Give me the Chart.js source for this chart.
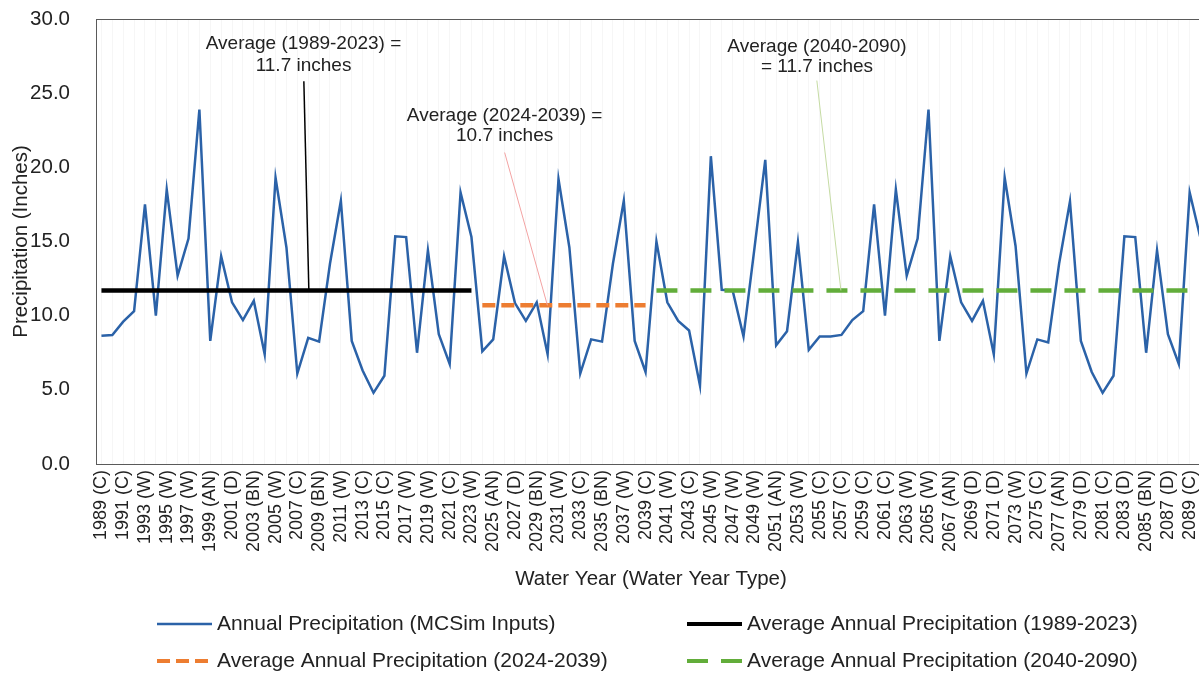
<!DOCTYPE html>
<html>
<head>
<meta charset="utf-8">
<title>Annual Precipitation</title>
<script src="https://cdn.jsdelivr.net/npm/chart.js@4.4.1/dist/chart.umd.min.js"></script>
<style>
  html, body { margin: 0; padding: 0; background: #fff; overflow: hidden; }
  canvas { display: block; }
</style>
</head>
<body>
<canvas id="precipChart" width="1206" height="681"></canvas>
<script>
// water years shown on the axis, every other year gets a label
var firstYear = 1989;
var lastYear = 2090;

var tickLabels = [
  '1989 (C)', '1991 (C)', '1993 (W)', '1995 (W)', '1997 (W)', '1999 (AN)', '2001 (D)', '2003 (BN)',
  '2005 (W)', '2007 (C)', '2009 (BN)', '2011 (W)', '2013 (C)', '2015 (C)', '2017 (W)', '2019 (W)',
  '2021 (C)', '2023 (W)', '2025 (AN)', '2027 (D)', '2029 (BN)', '2031 (W)', '2033 (C)', '2035 (BN)',
  '2037 (W)', '2039 (C)', '2041 (W)', '2043 (C)', '2045 (W)', '2047 (W)', '2049 (W)', '2051 (AN)',
  '2053 (W)', '2055 (C)', '2057 (C)', '2059 (C)', '2061 (C)', '2063 (W)', '2065 (W)', '2067 (AN)',
  '2069 (D)', '2071 (D)', '2073 (W)', '2075 (C)', '2077 (AN)', '2079 (D)', '2081 (C)', '2083 (D)',
  '2085 (BN)', '2087 (D)', '2089 (C)'
];

// annual precipitation, inches (1989 ... 2090)
var precipitation = [
  8.65, 8.7, 9.6, 10.3, 17.5, 10.0, 18.5, 12.7, 15.2, 23.9,     // 1989-1998
  8.3, 14.0, 10.9, 9.7, 11.0, 7.4, 19.3, 14.6, 6.1, 8.5,        // 1999-2008
  8.25, 13.5, 17.75, 8.3, 6.3, 4.8, 5.95, 15.35, 15.3, 7.5,     // 2009-2018
  14.4, 8.75, 6.75, 18.3, 15.3, 7.6, 8.4, 14.0, 10.85, 9.65,    // 2019-2028
  10.9, 7.4, 19.2, 14.6, 6.1, 8.4, 8.25, 13.5, 17.75, 8.3,      // 2029-2038
  6.2, 15.0, 10.9, 9.65, 9.0, 5.3, 20.75, 11.75, 11.7, 8.6,     // 2039-2048
  14.5, 20.5, 8.0, 8.95, 14.95, 7.7, 8.6, 8.6, 8.7, 9.7,        // 2049-2058
  10.3, 17.5, 10.0, 18.5, 12.7, 15.2, 23.9, 8.3, 14.0, 10.9,    // 2059-2068
  9.65, 11.0, 7.4, 19.3, 14.7, 6.1, 8.4, 8.2, 13.5, 17.7,       // 2069-2078
  8.3, 6.2, 4.8, 5.95, 15.35, 15.3, 7.5, 14.4, 8.75, 6.75,      // 2079-2088
  18.3, 15.2                                                    // 2089-2090
];

// period averages
var avgStart = [1989, 2024, 2040];
var avgEnd = [2023, 2039, 2090];
var avgValue = [11.7, 10.7, 11.7];

var yTicks = [0, 5, 10, 15, 20, 25, 30];

var years = [];
for (var y = firstYear; y <= lastYear; y++) years.push(y);

function periodLine(k) {
  return years.map(function (yr) {
    return (yr >= avgStart[k] && yr <= avgEnd[k]) ? avgValue[k] : null;
  });
}

var FONT = "'Liberation Sans', Arial, sans-serif";
var TEXT = '#222222';

// frame round the plot area
var plotFrame = {
  id: 'plotFrame',
  beforeDatasetsDraw: function (chart) {
    var ctx = chart.ctx, a = chart.chartArea;
    ctx.save();
    ctx.strokeStyle = '#5a5a5a';
    ctx.lineWidth = 1;
    ctx.strokeRect(Math.round(a.left) + 0.5, Math.round(a.top) + 0.5,
      Math.round(a.right - a.left), Math.round(a.bottom - a.top));
    ctx.restore();
  }
};

// callout labels, positions given in category index / inches
var callouts = [
  { text: ['Average (1989-2023) =', '11.7 inches'], at: [18.57, 28.3, 26.85],
    from: [18.6, 25.8], to: [19.06, 11.7], color: '#000000', width: 1.5 },
  { text: ['Average (2024-2039) =', '10.7 inches'], at: [37.05, 23.5, 22.15],
    from: [37.05, 21.0], to: [40.98, 10.7], color: '#f3a3a3', width: 1 },
  { text: ['Average (2040-2090)', '= 11.7 inches'], at: [65.75, 28.15, 26.8],
    from: [65.74, 25.85], to: [67.95, 11.7], color: '#c5dba3', width: 1 }
];

var calloutPlugin = {
  id: 'callouts',
  afterDatasetsDraw: function (chart) {
    var ctx = chart.ctx, xs = chart.scales.x, ys = chart.scales.y;
    ctx.save();
    callouts.forEach(function (c) {
      ctx.strokeStyle = c.color;
      ctx.lineWidth = c.width;
      ctx.setLineDash([]);
      ctx.beginPath();
      ctx.moveTo(xs.getPixelForValue(c.from[0]), ys.getPixelForValue(c.from[1]));
      ctx.lineTo(xs.getPixelForValue(c.to[0]), ys.getPixelForValue(c.to[1]));
      ctx.stroke();
      ctx.fillStyle = TEXT;
      ctx.font = '19px ' + FONT;
      ctx.textAlign = 'center';
      ctx.textBaseline = 'middle';
      var cx = xs.getPixelForValue(c.at[0]);
      ctx.fillText(c.text[0], cx, ys.getPixelForValue(c.at[1]));
      ctx.fillText(c.text[1], cx, ys.getPixelForValue(c.at[2]));
    });
    ctx.restore();
  }
};

// two column legend under the axis title
var legendSpots = [[157, 624], [687, 624], [157, 661], [687, 661]];
var legendPlugin = {
  id: 'twoColLegend',
  afterDraw: function (chart) {
    var ctx = chart.ctx;
    ctx.save();
    chart.data.datasets.forEach(function (ds, i) {
      var p = legendSpots[i];
      ctx.strokeStyle = ds.borderColor;
      ctx.lineWidth = Math.min(ds.borderWidth, 4);
      ctx.lineCap = 'butt';
      ctx.setLineDash(ds.borderDash || []);
      ctx.beginPath();
      ctx.moveTo(p[0], p[1]);
      ctx.lineTo(p[0] + 55, p[1]);
      ctx.stroke();
      ctx.setLineDash([]);
      ctx.fillStyle = TEXT;
      ctx.font = '21px ' + FONT;
      ctx.textAlign = 'left';
      ctx.textBaseline = 'middle';
      ctx.fillText(ds.label, p[0] + 60, p[1]);
    });
    ctx.restore();
  }
};

var ctx = document.getElementById('precipChart').getContext('2d');
var precipChart = new Chart(ctx, {
  type: 'line',
  data: {
    labels: years,
    datasets: [{
      label: 'Annual Precipitation (MCSim Inputs)',
      data: precipitation,
      borderColor: '#2b62a8',
      borderWidth: 2.5,
      order: 1
    }, {
      label: 'Average Annual Precipitation (1989-2023)',
      data: periodLine(0),
      borderColor: '#000000',
      borderWidth: 4.5,
      order: 0
    }, {
      label: 'Average Annual Precipitation (2024-2039)',
      data: periodLine(1),
      borderColor: '#ed7d31',
      borderWidth: 4.5,
      borderDash: [13, 6],
      order: 0
    }, {
      label: 'Average Annual Precipitation (2040-2090)',
      data: periodLine(2),
      borderColor: '#62ad3a',
      borderWidth: 4.5,
      borderDash: [21, 13],
      order: 0
    }]
  },
  options: {
    responsive: false,
    animation: false,
    devicePixelRatio: 1,
    spanGaps: false,
    elements: {
      point: { radius: 0, hoverRadius: 0 },
      line: { tension: 0, borderCapStyle: 'butt' }
    },
    layout: { padding: { top: 19, left: 0, right: 0, bottom: 85 } },
    plugins: {
      legend: { display: false },
      tooltip: { enabled: false }
    },
    scales: {
      x: {
        type: 'category',
        offset: true,
        border: { display: false },
        grid: { color: 'rgba(0,0,0,0.035)', drawTicks: false },
        ticks: {
          autoSkip: false,
          minRotation: 90,
          maxRotation: 90,
          padding: 6,
          color: TEXT,
          font: { family: FONT, size: 18 },
          callback: function (val, i) {
            return i % 2 === 0 ? tickLabels[i / 2] : '';
          }
        },
        title: {
          display: true,
          text: 'Water Year (Water Year Type)',
          color: TEXT,
          font: { family: FONT, size: 20.5 },
          padding: { top: 4, bottom: 4 }
        },
        afterFit: function (scale) {
          scale.height = 132;
          scale.paddingLeft = 0;
          scale.paddingRight = 0;
        }
      },
      y: {
        min: 0,
        max: 30,
        border: { display: false },
        grid: { display: false },
        afterBuildTicks: function (scale) {
          scale.ticks = yTicks.map(function (v) { return { value: v }; });
        },
        ticks: {
          padding: 18,
          color: TEXT,
          font: { family: FONT, size: 20.5 },
          callback: function (v) { return Number(v).toFixed(1); }
        },
        title: {
          display: true,
          text: 'Precipitation (Inches)',
          color: TEXT,
          font: { family: FONT, size: 20.5 },
          padding: { top: 9, bottom: 4 }
        },
        afterFit: function (scale) {
          scale.width = 96;
          scale.paddingTop = 0;
          scale.paddingBottom = 0;
        }
      }
    }
  },
  plugins: [plotFrame, calloutPlugin, legendPlugin]
});
</script>
</body>
</html>
